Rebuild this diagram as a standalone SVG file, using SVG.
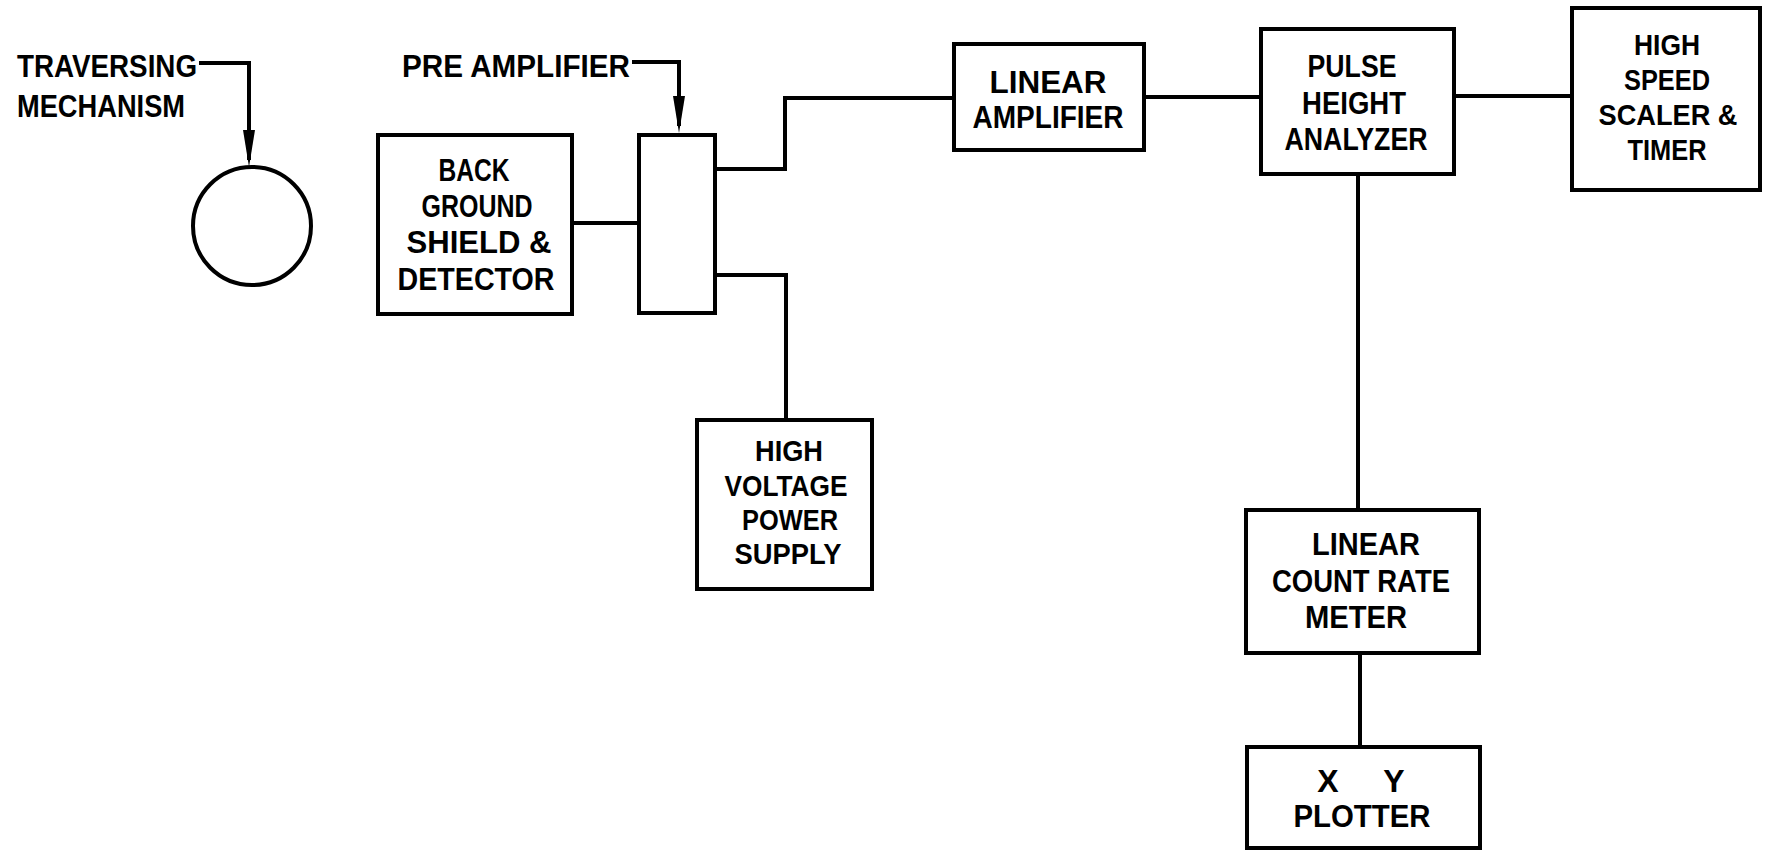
<svg xmlns="http://www.w3.org/2000/svg" width="1765" height="853" viewBox="0 0 1765 853">
<style>
  .box { fill: #ffffff; stroke: #000000; stroke-width: 4; }
  .wire { fill: none; stroke: #000000; stroke-width: 4; stroke-linejoin: miter; }
  .t { font-family: "Liberation Sans", Arial, sans-serif; font-weight: bold; font-size: 32px; fill: #000000; }
  .s { font-size: 30px; }
  .c { text-anchor: middle; }
</style>
<defs>
  <marker id="arrow" markerUnits="userSpaceOnUse" markerWidth="37" markerHeight="13" refX="30" refY="6.5" orient="auto" viewBox="0 0 37 13">
    <path d="M0 0.5 L37 6.5 L0 12.5 Z" fill="#000000"/>
  </marker>
</defs>
<rect width="1765" height="853" fill="#ffffff"/>

<g id="connectors">
  <path class="wire" d="M199 63 H249 V160" marker-end="url(#arrow)"/>
  <path class="wire" d="M632 62 H679 V126" marker-end="url(#arrow)"/>
  <path class="wire" d="M573 223 H639"/>
  <path class="wire" d="M715 169 H785 V98 H954"/>
  <path class="wire" d="M715 275 H786 V420"/>
  <path class="wire" d="M1144 97 H1261"/>
  <path class="wire" d="M1454 96 H1572"/>
  <path class="wire" d="M1358 174 V510"/>
  <path class="wire" d="M1360 653 V747"/>
</g>

<g id="traversing-mechanism">
  <text class="t" x="17" y="77" textLength="180" lengthAdjust="spacingAndGlyphs">TRAVERSING</text>
  <text class="t" x="17" y="117" textLength="168" lengthAdjust="spacingAndGlyphs">MECHANISM</text>
  <circle class="box" cx="252" cy="226" r="59"/>
</g>

<g id="pre-amplifier-label">
  <text class="t" x="402" y="77" textLength="228" lengthAdjust="spacingAndGlyphs">PRE AMPLIFIER</text>
</g>

<g id="background-shield-detector">
  <rect class="box" x="378" y="135" width="194" height="179"/>
  <text class="t c" x="474" y="181" textLength="71" lengthAdjust="spacingAndGlyphs">BACK</text>
  <text class="t c" x="477" y="217" textLength="111" lengthAdjust="spacingAndGlyphs">GROUND</text>
  <text class="t c" x="479" y="253" textLength="145" lengthAdjust="spacingAndGlyphs">SHIELD &amp;</text>
  <text class="t c" x="476" y="290" textLength="157" lengthAdjust="spacingAndGlyphs">DETECTOR</text>
</g>

<g id="pre-amplifier">
  <rect class="box" x="639" y="135" width="76" height="178"/>
</g>

<g id="high-voltage-power-supply">
  <rect class="box" x="697" y="420" width="175" height="169"/>
  <text class="t s c" x="789" y="461" textLength="68" lengthAdjust="spacingAndGlyphs">HIGH</text>
  <text class="t s c" x="786" y="496" textLength="123" lengthAdjust="spacingAndGlyphs">VOLTAGE</text>
  <text class="t s c" x="790" y="530" textLength="96" lengthAdjust="spacingAndGlyphs">POWER</text>
  <text class="t s c" x="788" y="564" textLength="107" lengthAdjust="spacingAndGlyphs">SUPPLY</text>
</g>

<g id="linear-amplifier">
  <rect class="box" x="954" y="44" width="190" height="106"/>
  <text class="t c" x="1048" y="93" textLength="117" lengthAdjust="spacingAndGlyphs">LINEAR</text>
  <text class="t c" x="1048" y="128" textLength="151" lengthAdjust="spacingAndGlyphs">AMPLIFIER</text>
</g>

<g id="pulse-height-analyzer">
  <rect class="box" x="1261" y="29" width="193" height="145"/>
  <text class="t c" x="1352" y="77" textLength="89" lengthAdjust="spacingAndGlyphs">PULSE</text>
  <text class="t c" x="1354" y="114" textLength="104" lengthAdjust="spacingAndGlyphs">HEIGHT</text>
  <text class="t c" x="1356" y="150" textLength="143" lengthAdjust="spacingAndGlyphs">ANALYZER</text>
</g>

<g id="high-speed-scaler-timer">
  <rect class="box" x="1572" y="8" width="188" height="182"/>
  <text class="t s c" x="1667" y="55" textLength="66" lengthAdjust="spacingAndGlyphs">HIGH</text>
  <text class="t s c" x="1667" y="90" textLength="86" lengthAdjust="spacingAndGlyphs">SPEED</text>
  <text class="t s c" x="1668" y="125" textLength="139" lengthAdjust="spacingAndGlyphs">SCALER &amp;</text>
  <text class="t s c" x="1667" y="160" textLength="79" lengthAdjust="spacingAndGlyphs">TIMER</text>
</g>

<g id="linear-count-rate-meter">
  <rect class="box" x="1246" y="510" width="233" height="143"/>
  <text class="t c" x="1366" y="555" textLength="108" lengthAdjust="spacingAndGlyphs">LINEAR</text>
  <text class="t c" x="1361" y="592" textLength="178" lengthAdjust="spacingAndGlyphs">COUNT RATE</text>
  <text class="t c" x="1356" y="628" textLength="102" lengthAdjust="spacingAndGlyphs">METER</text>
</g>

<g id="xy-plotter">
  <rect class="box" x="1247" y="747" width="233" height="101"/>
  <text class="t c" x="1328" y="792">X</text>
  <text class="t c" x="1394" y="792">Y</text>
  <text class="t c" x="1362" y="827" textLength="137" lengthAdjust="spacingAndGlyphs">PLOTTER</text>
</g>
</svg>
